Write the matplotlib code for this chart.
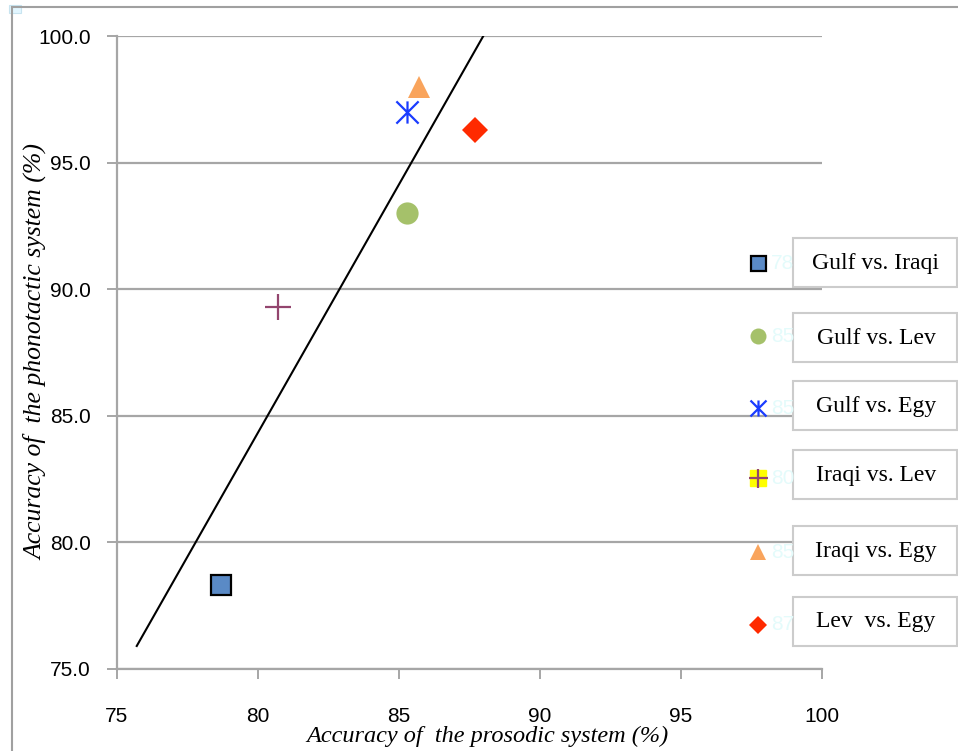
import matplotlib
matplotlib.use("Agg")
import matplotlib.pyplot as plt
import numpy as np
from matplotlib.lines import Line2D
from matplotlib.patches import Rectangle
from matplotlib.path import Path

# data
pairs = ["Gulf vs. Iraqi", "Gulf vs. Lev", "Gulf vs. Egy",
         "Iraqi vs. Lev", "Iraqi vs. Egy", "Lev  vs. Egy"]
prosodic = [78.7, 85.3, 85.3, 80.7, 85.7, 87.7]
phonotactic = [78.3, 93.0, 97.0, 89.3, 98.0, 96.3]
hidden_labels = ["78", "85", "85", "80", "85", "87"]
x_ticks = [75, 80, 85, 90, 95, 100]
y_ticks = [75.0, 80.0, 85.0, 90.0, 95.0, 100.0]
trend_x_start = 75.7

W, H = 958, 751
GRID = "#a6a6a6"

# Excel-like asterisk: X plus vertical bar
ast = Path([(0, -1), (0, 1), (-1, -1), (1, 1), (-1, 1), (1, -1)],
           [Path.MOVETO, Path.LINETO] * 3)

styles = [
    dict(marker="s", mfc="#5a8ac6", mec="black", mew=1.6, ms=15),
    dict(marker="o", mfc="#a5c16a", mec="#a5c16a", mew=0, ms=16),
    dict(marker=ast, mfc="none", mec="#1a3cff", mew=1.6, ms=16),
    dict(marker="+", mfc="none", mec="#93456e", mew=1.6, ms=19),
    dict(marker="^", mfc="#f9a45c", mec="#f9a45c", mew=0, ms=16),
    dict(marker="D", mfc="#ff2a00", mec="#ff2a00", mew=0, ms=13),
]


def fx(px):
    return px / W


def fy(py):
    return 1 - py / H


fig = plt.figure(figsize=(W / 100, H / 100), dpi=100)
ax = fig.add_axes([fx(117), fy(669), fx(822) - fx(117), fy(36) - fy(669)])

for x, y, st in zip(prosodic, phonotactic, styles):
    ax.plot([x], [y], ls="none", zorder=3, **st)

# linear trendline (least squares through the points)
slope, icpt = np.polyfit(prosodic, phonotactic, 1)
x_end = (100 - icpt) / slope
tx = np.array([trend_x_start, x_end])
ax.plot(tx, slope * tx + icpt, color="black", lw=1.5, zorder=2)

ax.set_xlim(75, 100)
ax.set_ylim(75, 100)
ax.set_xticks(x_ticks)
ax.set_yticks(y_ticks)
ax.set_yticklabels([f"{v:.1f}" for v in y_ticks])
ax.yaxis.grid(True, color=GRID, lw=1.6)
ax.set_axisbelow(True)
for s in ["top", "right"]:
    ax.spines[s].set_visible(False)
for s in ["left", "bottom"]:
    ax.spines[s].set_color(GRID)
    ax.spines[s].set_linewidth(1.6)
ax.tick_params(axis="both", colors=GRID, length=7, width=1.4, direction="out",
               labelcolor="black", labelsize=15)
ax.tick_params(axis="x", pad=20)
ax.tick_params(axis="y", pad=12)
for lab in ax.get_xticklabels() + ax.get_yticklabels():
    lab.set_family("Liberation Sans")

ax.set_xlabel("Accuracy of  the prosodic system (%)", family="Liberation Serif",
              style="italic", fontsize=17.5)
ax.set_ylabel("Accuracy of  the phonotactic system (%)", family="Liberation Serif",
              style="italic", fontsize=18.5)
ax.xaxis.set_label_coords(0.525, -0.107)
ax.xaxis.label.set_va("center")
ax.yaxis.set_label_coords(-0.116, 0.5)
ax.yaxis.label.set_va("center")

# chart-area frame (partly cropped in the reference)
fig.add_artist(Line2D([fx(12), fx(12)], [fy(7), 0], color="#a0a0a0", lw=1.5))
fig.add_artist(Line2D([fx(12), 1], [fy(7), fy(7)], color="#a0a0a0", lw=1.5))
fig.add_artist(Rectangle((fx(9), fy(13)), fx(12), fy(5) - fy(13),
                         transform=fig.transFigure, fc="#e2f6ff",
                         ec="#c8e4f0", lw=0.8))

# legend: one framed entry per pair
leg_y = [263, 336, 408, 478, 552, 625]
box_tops = [238, 313, 381, 450, 526, 597]
for i, (name, hid, st) in enumerate(zip(pairs, hidden_labels, styles)):
    y = leg_y[i]
    st2 = dict(st)
    st2["ms"] = st["ms"] * 0.72
    if i == 3:
        fig.add_artist(Line2D([fx(758)], [fy(y)], transform=fig.transFigure,
                              ls="none", marker="s", ms=11, mfc="#ffff00",
                              mec="#ffff00"))
    fig.add_artist(Line2D([fx(758)], [fy(y)], transform=fig.transFigure,
                          ls="none", **st2))
    fig.text(fx(771), fy(y), hid, color="#e4fbfb", fontsize=15,
             family="Liberation Sans", va="center", ha="left")
    top = box_tops[i]
    fig.add_artist(Rectangle((fx(793), fy(top + 49)), fx(957) - fx(793),
                             fy(top) - fy(top + 49), transform=fig.transFigure,
                             fc="white", ec="#cccccc", lw=1.5, zorder=2))
    fig.text(fx(876), fy(top + 25), name, family="Liberation Serif",
             fontsize=17, ha="center", va="center", zorder=3)

fig.savefig("out.png", dpi=100)
